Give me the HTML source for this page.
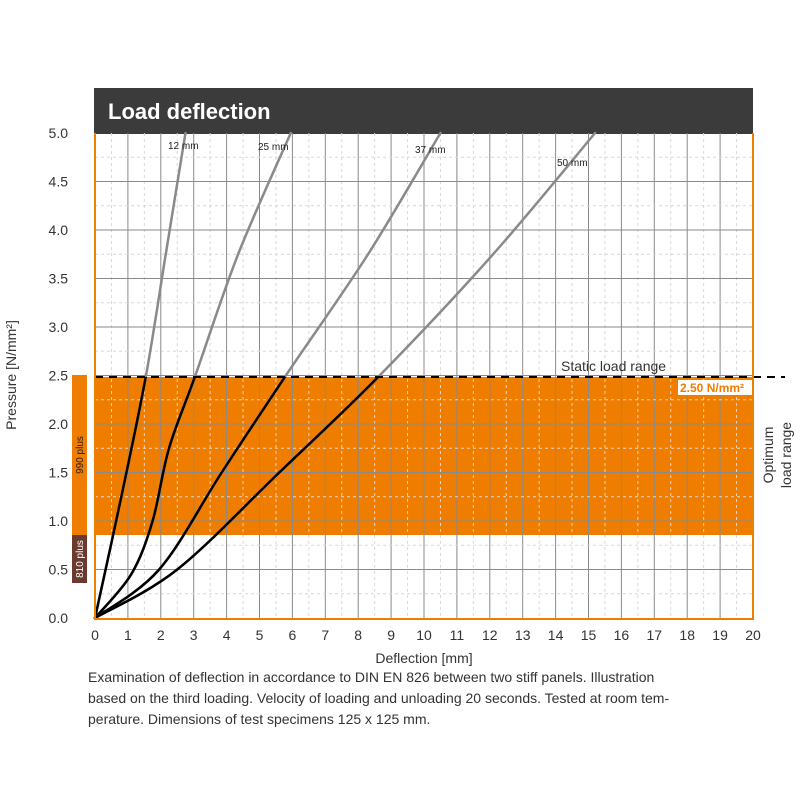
<!DOCTYPE html>
<html><head><meta charset="utf-8"><style>
body{margin:0;background:#fff;}
svg{display:block;font-family:"Liberation Sans",sans-serif;}
</style></head><body>
<svg id="s" width="800" height="800" viewBox="0 0 800 800" xmlns="http://www.w3.org/2000/svg">
<defs><clipPath id="low"><rect x="0" y="377" width="800" height="300"/></clipPath></defs>
<rect x="94" y="88" width="659" height="46" fill="#3b3b3b"/>
<text x="108" y="119" fill="#fff" font-size="22" font-weight="bold">Load deflection</text>
<rect x="95" y="377" width="658" height="158" fill="#ef7d00"/>
<g id="grid"></g>
<rect x="72" y="375" width="15" height="160" fill="#ef7d00"/>
<rect x="72" y="535" width="15" height="48" fill="#6b3a2e"/>
<text transform="translate(83,455) rotate(-90)" text-anchor="middle" font-size="10" fill="#222">990 plus</text>
<text transform="translate(83,559) rotate(-90)" text-anchor="middle" font-size="10" fill="#fff">810 plus</text>
<g id="curves" fill="none" stroke-linejoin="round" stroke-linecap="round"></g>
<line x1="95" y1="377" x2="785" y2="377" stroke="#000" stroke-width="2" stroke-dasharray="8,6"/>
<text x="561" y="371" font-size="14" fill="#333">Static load range</text>
<rect x="678" y="380" width="75" height="15" fill="#fff"/>
<text x="680" y="392" font-size="12" font-weight="bold" fill="#ef7d00">2.50 N/mm²</text>
<text transform="translate(773,455) rotate(-90)" text-anchor="middle" font-size="14" fill="#333">Optimum</text>
<text transform="translate(791,455) rotate(-90)" text-anchor="middle" font-size="14" fill="#333">load range</text>
<line x1="95" y1="133" x2="95" y2="619" stroke="#ef7d00" stroke-width="2"/>
<line x1="753" y1="133" x2="753" y2="619" stroke="#ef7d00" stroke-width="2"/>
<line x1="94" y1="619" x2="754" y2="619" stroke="#ef7d00" stroke-width="2"/>
<text x="168" y="149" font-size="10" fill="#222">12 mm</text>
<text x="258" y="150" font-size="10" fill="#222">25 mm</text>
<text x="415" y="153" font-size="10" fill="#222">37 mm</text>
<text x="557" y="166" font-size="10" fill="#222">50 mm</text>
<g id="labels" font-size="14" fill="#333"></g>
<text x="424" y="663" text-anchor="middle" font-size="14" fill="#333">Deflection [mm]</text>
<text transform="translate(16,375) rotate(-90)" text-anchor="middle" font-size="14" fill="#333">Pressure [N/mm²]</text>
<text font-size="14" fill="#333"><tspan x="88" y="682">Examination of deflection in accordance to DIN EN 826 between two stiff panels. Illustration</tspan><tspan x="88" y="703">based on the third loading. Velocity of loading and unloading 20 seconds. Tested at room tem-</tspan><tspan x="88" y="724">perature. Dimensions of test specimens 125 x 125 mm.</tspan></text>
</svg>
<script>
const NS="http://www.w3.org/2000/svg";
const X=x=>95+x*32.9, Y=y=>618-y*97;
function el(p,t,a,txt){const e=document.createElementNS(NS,t);for(const k in a)e.setAttribute(k,a[k]);if(txt!==undefined)e.textContent=txt;p.appendChild(e);return e;}
const g=document.getElementById('grid');
for(let i=1;i<40;i++){const x=X(i/2);el(g,'line',{x1:x,y1:133,x2:x,y2:618,stroke:i%2?'#d8d8d8':'#8a8a8a','stroke-width':1,'stroke-dasharray':i%2?'3,3':'none'});}
for(let j=1;j<20;j++){const y=Y(j/4);el(g,'line',{x1:95,y1:y,x2:753,y2:y,stroke:j%2?'#d8d8d8':'#8a8a8a','stroke-width':1,'stroke-dasharray':j%2?'3,3':'none'});}
const L=document.getElementById('labels');
for(let i=0;i<=20;i++)el(L,'text',{x:X(i),y:640,'text-anchor':'middle'},String(i));
for(let j=0;j<=10;j++)el(L,'text',{x:68,y:Y(j/2)+5,'text-anchor':'end'},(j/2).toFixed(1));
function path(pts){const p=pts.map(([x,y])=>[X(x),Y(y)]);let d='M'+p[0][0]+','+p[0][1];
for(let i=0;i<p.length-1;i++){const p0=p[i-1]||p[i],p1=p[i],p2=p[i+1],p3=p[i+2]||p2;
d+=` C${p1[0]+(p2[0]-p0[0])/6},${p1[1]+(p2[1]-p0[1])/6} ${p2[0]-(p3[0]-p1[0])/6},${p2[1]-(p3[1]-p1[1])/6} ${p2[0]},${p2[1]}`;}return d;}
const C=document.getElementById('curves');
const curves=[
 [[0,0],[0.8,1.25],[1.55,2.5],[2.15,3.75],[2.75,5]],
 [[0,0],[1.1,0.45],[1.75,1.0],[2.25,1.75],[3.05,2.5],[4.35,3.75],[5.95,5]],
 [[0,0],[1.95,0.5],[3.85,1.5],[5.8,2.5],[8.3,3.75],[10.5,5]],
 [[0,0],[2.5,0.5],[5.6,1.5],[8.65,2.5],[12.1,3.75],[15.2,5]]];
curves.forEach(c=>{const d=path(c);el(C,'path',{d:d,stroke:'#8a8a8a','stroke-width':2.5});el(C,'path',{d:d,stroke:'#000','stroke-width':2.5,'clip-path':'url(#low)'});});
</script>
</body></html>
